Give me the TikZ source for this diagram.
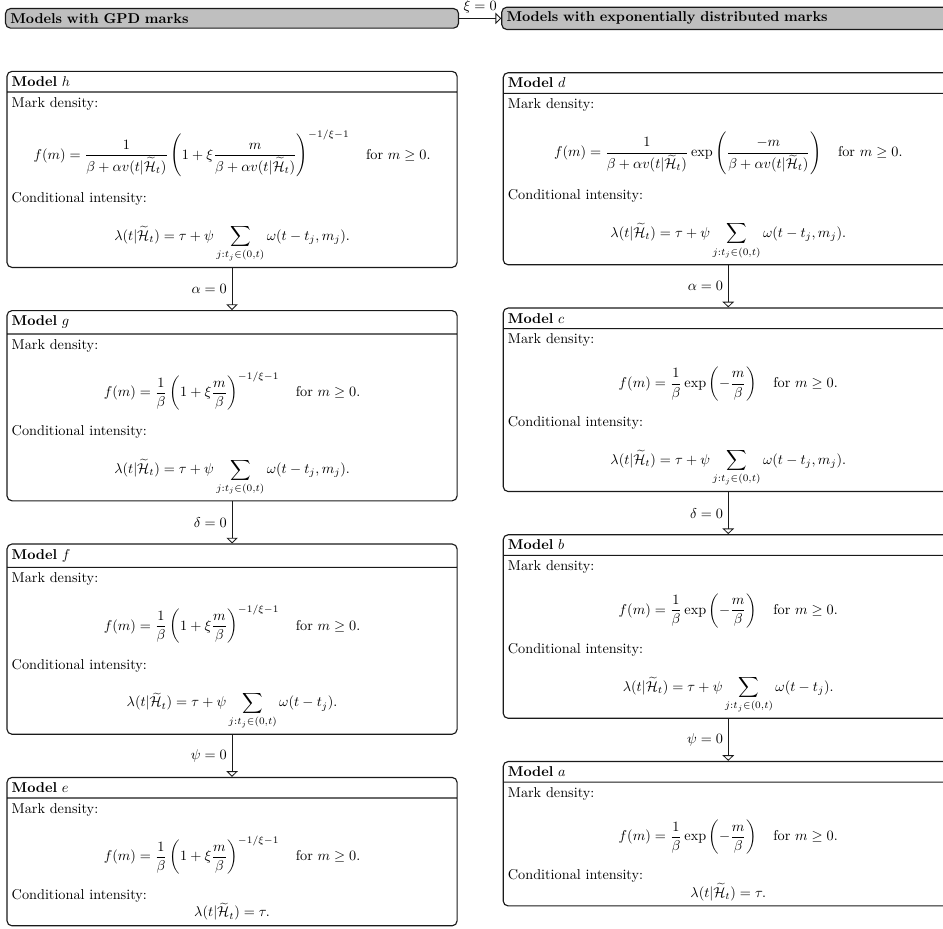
\documentclass[tikz,border=0pt]{standalone}
\usepackage{amsmath,amssymb}
\usepackage{tikz}
\usepackage{xcolor}
\usetikzlibrary{arrows.meta,positioning,shapes.multipart}
\definecolor{HeaderGray}{HTML}{BFBFBF}
\definecolor{LineBlack}{HTML}{1A1A1A}
\newcommand{\Hist}{\widetilde{\mathcal{H}}_t}
\tikzset{
  header/.style={rounded corners=3.5pt, draw=LineBlack, fill=HeaderGray, thick, text width=311pt, align=left, font=\bfseries},
  model/.style={rectangle split, rectangle split parts=2, rounded corners=3.5pt, draw=LineBlack, thick, text width=309pt, align=left},
  arrow/.style={-{Triangle[open, length=4pt, width=8pt]}, semithick, draw=LineBlack}
}

\begin{document}
\begin{tikzpicture}[
    node distance=29.5pt,
    execute at begin picture={%
        \setlength{\abovedisplayskip}{13pt plus 2pt minus 5pt}%
        \setlength{\belowdisplayskip}{9.8pt plus 2pt minus 5pt}}
]
\useasboundingbox (0,0) rectangle (661.3pt,-650.8pt);

\node[header, anchor=north west] (gpd) at (3.5pt,-5.6pt)
    {Models with GPD marks};
\node[header, right=of gpd] (expo)
    {Models with exponentially distributed marks};

% GPD marks
\node[model, below=of gpd] (h)
    {\textbf{Model} $h$
     \nodepart{two}Mark density:
     \[ f(m)=\frac{1}{\beta+\alpha v(t|\Hist)}\left(1+\xi\frac{m}{\beta+\alpha v(t|\Hist)}\right)^{-1/\xi-1}\quad\text{for } m\geq 0. \]
     Conditional intensity:
     \[ \lambda(t|\Hist)=\tau+\psi\sum_{j:t_j\in(0,t)}\omega(t-t_j,m_j). \]};

\node[model, below=of h] (g)
    {\textbf{Model} $g$
     \nodepart{two}Mark density:
     \[ f(m)=\frac{1}{\beta}\left(1+\xi\frac{m}{\beta}\right)^{-1/\xi-1}\quad\text{for } m\geq 0. \]
     Conditional intensity:
     \[ \lambda(t|\Hist)=\tau+\psi\sum_{j:t_j\in(0,t)}\omega(t-t_j,m_j). \]};

\node[model, below=of g] (f)
    {\textbf{Model} $f$
     \nodepart{two}Mark density:
     \[ f(m)=\frac{1}{\beta}\left(1+\xi\frac{m}{\beta}\right)^{-1/\xi-1}\quad\text{for } m\geq 0. \]
     Conditional intensity:
     \[ \lambda(t|\Hist)=\tau+\psi\sum_{j:t_j\in(0,t)}\omega(t-t_j). \]};

\node[model, below=of f] (e)
    {\textbf{Model} $e$
     \nodepart{two}Mark density:
     \[ f(m)=\frac{1}{\beta}\left(1+\xi\frac{m}{\beta}\right)^{-1/\xi-1}\quad\text{for } m\geq 0. \]
     Conditional intensity:
     \[ \lambda(t|\Hist)=\tau. \]};

% exponential marks
\node[model, below=of expo] (d)
    {\textbf{Model} $d$
     \nodepart{two}Mark density:
     \[ f(m)=\frac{1}{\beta+\alpha v(t|\Hist)}\exp\left(\frac{-m}{\beta+\alpha v(t|\Hist)}\right)\quad\text{for } m\geq 0. \]
     Conditional intensity:
     \[ \lambda(t|\Hist)=\tau+\psi\sum_{j:t_j\in(0,t)}\omega(t-t_j,m_j). \]};

\node[model, below=of d] (c)
    {\textbf{Model} $c$
     \nodepart{two}Mark density:
     \[ f(m)=\frac{1}{\beta}\exp\left(-\frac{m}{\beta}\right)\quad\text{for } m\geq 0. \]
     Conditional intensity:
     \[ \lambda(t|\Hist)=\tau+\psi\sum_{j:t_j\in(0,t)}\omega(t-t_j,m_j). \]};

\node[model, below=of c] (b)
    {\textbf{Model} $b$
     \nodepart{two}Mark density:
     \[ f(m)=\frac{1}{\beta}\exp\left(-\frac{m}{\beta}\right)\quad\text{for } m\geq 0. \]
     Conditional intensity:
     \[ \lambda(t|\Hist)=\tau+\psi\sum_{j:t_j\in(0,t)}\omega(t-t_j). \]};

\node[model, below=of b] (a)
    {\textbf{Model} $a$
     \nodepart{two}Mark density:
     \[ f(m)=\frac{1}{\beta}\exp\left(-\frac{m}{\beta}\right)\quad\text{for } m\geq 0. \]
     Conditional intensity:
     \[ \lambda(t|\Hist)=\tau. \]};

\draw[arrow] (gpd) -- node[above] {$\xi=0$} (expo);
\draw[arrow] (h) -- node[left] {$\alpha=0$} (g);
\draw[arrow] (g) -- node[left] {$\delta=0$} (f);
\draw[arrow] (f) -- node[left] {$\psi=0$} (e);
\draw[arrow] (d) -- node[left] {$\alpha=0$} (c);
\draw[arrow] (c) -- node[left] {$\delta=0$} (b);
\draw[arrow] (b) -- node[left] {$\psi=0$} (a);
\end{tikzpicture}
\end{document}
